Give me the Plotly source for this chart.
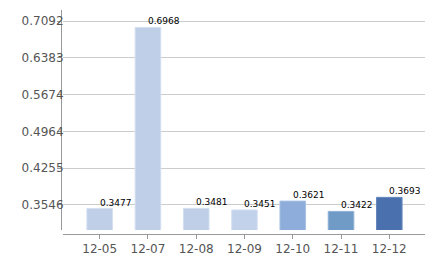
import plotly.graph_objects as go

categories = ["12-05", "12-07", "12-08", "12-09", "12-10", "12-11", "12-12"]
values = [0.3477, 0.6968, 0.3481, 0.3451, 0.3621, 0.3422, 0.3693]
bar_colors = ["#BFCFE8", "#BFCFE8", "#BFCFE8", "#C2D2EB", "#8EADDA", "#719BC7", "#4A70AD"]
edge_colors = ["#D3DFF0", "#D3DFF0", "#D3DFF0", "#D6E2F2", "#A8C1E4", "#8CB0D5", "#6788BD"]
y_ticks = [0.3546, 0.4255, 0.4964, 0.5674, 0.6383, 0.7092]
tick_labels = ["0.3546", "0.4255", "0.4964", "0.5674", "0.6383", "0.7092"]

W, H = 438, 260
fig = go.Figure()
fig.add_trace(go.Bar(
    x=list(range(len(categories))), y=values,
    marker=dict(color=bar_colors, line=dict(color=edge_colors, width=1)),
    width=0.53, base=0,
    hoverinfo="skip",
))

for i, v in enumerate(values):
    fig.add_annotation(
        x=i, y=v, text=f"{v:.4f}", showarrow=False,
        xanchor="left", yanchor="bottom", xshift=-2, yshift=-1,
        font=dict(family="DejaVu Sans", size=9, color="#000000"),
    )

fig.update_layout(
    width=W, height=H,
    margin=dict(l=0, r=0, t=0, b=0),
    plot_bgcolor="white", paper_bgcolor="white",
    showlegend=False,
    xaxis=dict(
        domain=[63 / W, 425 / W],
        range=[-0.76, 6.74],
        tickmode="array", tickvals=list(range(len(categories))), ticktext=categories,
        showgrid=False, zeroline=False,
        showline=True, linecolor="#999999", linewidth=1,
        ticks="outside", ticklen=4, tickcolor="#999999",
        anchor="free", position=1 - 234 / H,
        tickfont=dict(family="DejaVu Sans", size=12, color="#555555"),
    ),
    yaxis=dict(
        domain=[1 - 230 / H, 1 - 10 / H],
        range=[0.3064, 0.7304],
        tickmode="array", tickvals=y_ticks, ticktext=tick_labels,
        showgrid=True, gridcolor="#CCCCCC", gridwidth=1,
        zeroline=False,
        showline=True, linecolor="#999999", linewidth=1,
        ticks="outside", ticklen=4, tickcolor="#999999",
        anchor="free", position=61 / W,
        ticklabelstandoff=-9,
        tickfont=dict(family="DejaVu Sans", size=12, color="#555555"),
    ),
)

fig.write_html("out.html")
